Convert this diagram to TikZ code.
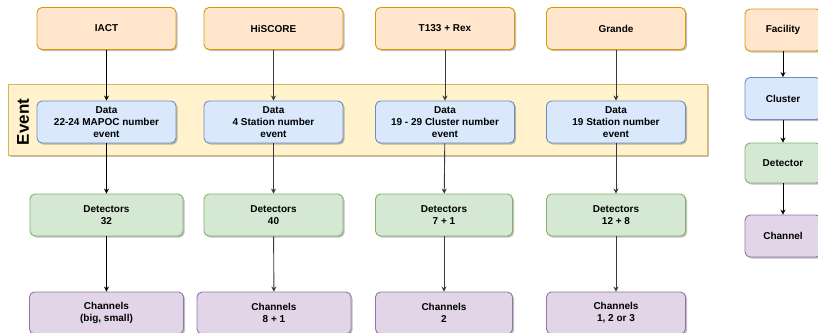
\documentclass[tikz,border=0pt]{standalone}
\usepackage{fontspec}
\setmainfont{Liberation Sans}
\usetikzlibrary{arrows.meta,shadows}

\definecolor{facfill}{HTML}{FFE6CC}
\definecolor{facline}{HTML}{D79B00}
\definecolor{datfill}{HTML}{DAE8FC}
\definecolor{datline}{HTML}{6C8EBF}
\definecolor{detfill}{HTML}{D5E8D4}
\definecolor{detline}{HTML}{82B366}
\definecolor{chafill}{HTML}{E1D5E7}
\definecolor{chaline}{HTML}{9673A6}
\definecolor{evtfill}{HTML}{FFF2CC}
\definecolor{evtline}{HTML}{D6B656}
\definecolor{arrowgray}{HTML}{3A3A3A}

\tikzset{
  box/.style={draw, rounded corners=5pt, line width=0.9pt, minimum height=42pt,
    minimum width=139pt, align=center, inner sep=0pt,
    font=\bfseries\fontsize{10}{12}\selectfont,
    drop shadow={shadow xshift=1.5pt, shadow yshift=-1.5pt, fill=black, opacity=0.25}},
  facbox/.style={box, fill=facfill, draw=facline},
  datbox/.style={box, fill=datfill, draw=datline},
  detbox/.style={box, fill=detfill, draw=detline},
  chabox/.style={box, fill=chafill, draw=chaline},
  link/.style={-{Stealth[length=5pt,width=5pt]}, line width=0.9pt},
}

\begin{document}
\begin{tikzpicture}[x=1pt,y=-1pt]
	\useasboundingbox (0,0) rectangle (818,332);
	% event band
	\filldraw[fill=evtfill, draw=evtline, line width=0.9pt,
	  drop shadow={shadow xshift=1.5pt, shadow yshift=-1.5pt, fill=black, opacity=0.25}]
	  (8,84) rectangle (707,155);
	\node[rotate=90, font=\bfseries\fontsize{17}{20}\selectfont] (event) at (23,122) {Event};

	% facilities
	\node[facbox] (iact) at (106.5,28.5) {IACT};
	\node[facbox] (hiscore) at (273.5,28.5) {HiSCORE};
	\node[facbox] (trex) at (445,28.5) {T133 + Rex};
	\node[facbox] (grande) at (616,28.5) {Grande};

	% data
	\node[datbox] (dataiact) at (106.5,122) {Data\\22-24 MAPOC number\\event};
	\node[datbox] (datahiscore) at (273.5,122) {Data\\4 Station number\\event};
	\node[datbox] (datatrex) at (445,122) {Data\\19 - 29 Cluster number\\event};
	\node[datbox] (datagrande) at (616,122) {Data\\19 Station number\\event};

	% detectors
	\node[detbox, minimum width=153pt] (detiact) at (106.5,215) {Detectors\\32};
	\node[detbox] (dethiscore) at (273.5,215) {Detectors\\40};
	\node[detbox, minimum width=137pt] (dettrex) at (444,215) {Detectors\\7 + 1};
	\node[detbox] (detgrande) at (616,215) {Detectors\\12 + 8};

	% channels
	\node[chabox, minimum width=154pt] (chaniact) at (106.5,313) {Channels\\(big, small)};
	\node[chabox, minimum width=154pt] (chanhiscore) at (274,313) {Channels\\8 + 1};
	\node[chabox, minimum width=137pt] (chantrex) at (444,313) {Channels\\2};
	\node[chabox] (changrande) at (616,313) {Channels\\1, 2 or 3};

	% legend
	\node[facbox, minimum width=76pt] (facility) at (783,30) {Facility};
	\node[datbox, minimum width=76pt] (cluster) at (783,98.5) {Cluster};
	\node[detbox, minimum width=76pt, minimum height=40pt] (detector) at (783,163) {Detector};
	\node[chabox, minimum width=76pt] (channel) at (783,236) {Channel};

	\draw[link] (iact) -- (dataiact);
	\draw[link] (dataiact) -- (detiact);
	\draw[link] (detiact) -- (chaniact);
	\draw[link, arrowgray] (hiscore) -- (datahiscore);
	\draw[link, arrowgray] (datahiscore) -- (dethiscore);
	\draw[link, arrowgray] (dethiscore) -- (chanhiscore);
	\draw[link, arrowgray] (trex) -- (datatrex);
	\draw[link, arrowgray] (datatrex) -- (dettrex);
	\draw[link, arrowgray] (dettrex) -- (chantrex);
	\draw[link, arrowgray] (grande) -- (datagrande);
	\draw[link, arrowgray] (datagrande) -- (detgrande);
	\draw[link, arrowgray] (detgrande) -- (changrande);
	\draw[link] (facility) -- (cluster);
	\draw[link] (cluster) -- (detector);
	\draw[link] (detector) -- (channel);
\end{tikzpicture}
\end{document}
